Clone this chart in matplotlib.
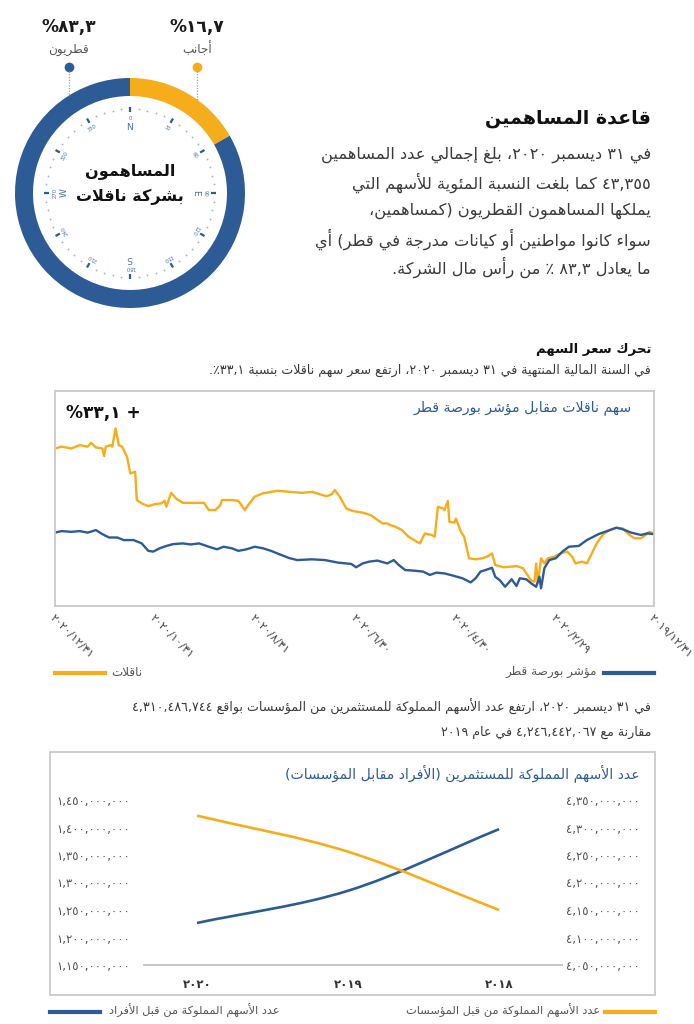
import numpy as np
import matplotlib
matplotlib.use('Agg')
import matplotlib.pyplot as plt
from matplotlib.patches import Wedge, Rectangle, PathPatch
from matplotlib.path import Path

# ---------------------------------------------------------------- data
share_names = ['أجانب', 'قطريون']
share_pct = [16.7, 83.3]

# share price vs index, rebased to 100 on 2019/12/31, days counted back from 2020/12/31
nak_days = [0, 4, 10, 15, 20, 22, 25, 29, 30, 31, 34, 35, 37, 39, 41, 44, 46, 49, 50, 53,
            57, 61, 65, 67, 68, 71, 74, 78, 83, 91, 94, 98, 101, 102, 108, 112, 114, 116, 118, 122,
            127, 132, 136, 143, 151, 157, 162, 166, 169, 171, 174, 178, 182, 188, 193, 200, 203, 205, 208, 212,
            216, 223, 226, 230, 232, 234, 237, 238, 240, 241, 244, 245, 248, 250, 253, 257, 261, 264, 267, 269,
            274, 278, 282, 286, 288, 291, 293, 294, 295, 297, 299, 301, 305, 309, 313, 316, 318, 322, 325, 328,
            331, 335, 339, 343, 347, 351, 354, 358, 361, 363, 366]
nak_vals = [133.1, 133.8, 133.1, 134.4, 133.8, 135.3, 133.5, 133.1, 130.1, 133.8, 134.4, 133.8, 140.9, 134.4, 133.8, 129.9, 123.4, 124.0, 113.0, 111.7,
            110.6, 111.4, 111.7, 112.7, 110.4, 115.8, 113.6, 111.9, 111.9, 111.9, 109.1, 109.1, 111.0, 113.0, 113.0, 112.7, 111.0, 109.1, 111.0, 114.3,
            115.6, 116.2, 116.6, 116.2, 115.8, 116.2, 115.2, 114.5, 115.2, 116.9, 114.3, 109.7, 108.7, 108.1, 107.1, 103.9, 103.9, 103.2, 102.6, 101.3,
            98.7, 96.1, 100.0, 99.4, 98.7, 110.4, 109.7, 109.1, 112.6, 104.5, 104.2, 105.8, 100.6, 98.7, 90.3, 89.9, 90.3, 90.9, 92.2, 87.7,
            86.8, 87.0, 87.3, 86.4, 84.4, 81.6, 81.2, 88.3, 80.5, 90.3, 88.3, 90.3, 90.9, 92.2, 92.9, 90.9, 88.3, 89.0, 88.3, 92.2,
            96.1, 99.7, 101.3, 102.2, 101.9, 99.4, 98.1, 98.1, 99.4, 100.6, 100.0]

qe_days = [0, 4, 10, 15, 20, 25, 29, 33, 38, 42, 48, 53, 57, 60, 64, 68, 72, 78, 83, 88,
           94, 99, 103, 108, 112, 117, 122, 127, 132, 137, 143, 148, 157, 165, 173, 181, 184, 188, 192, 197,
           203, 207, 210, 214, 219, 225, 229, 233, 238, 244, 249, 254, 257, 260, 263, 267, 269, 272, 275, 279,
           282, 284, 288, 291, 294, 296, 297, 299, 302, 306, 310, 314, 320, 325, 332, 339, 343, 347, 352, 358,
           362, 366]
qe_vals = [100.3, 100.9, 100.6, 100.9, 100.3, 101.3, 99.7, 98.4, 98.4, 97.4, 97.4, 96.1, 93.2, 92.9, 94.2, 95.1, 95.8, 96.1, 95.7, 96.1,
           94.8, 93.8, 94.8, 94.2, 93.2, 93.8, 94.8, 94.2, 93.2, 91.9, 90.4, 89.6, 89.9, 89.6, 88.6, 88.1, 86.8, 88.3, 89.0, 89.4,
           88.3, 89.6, 87.7, 85.7, 85.5, 85.1, 83.8, 84.7, 84.4, 83.4, 82.5, 80.9, 82.5, 85.1, 85.7, 86.6, 83.1, 81.6, 79.2, 82.1,
           79.5, 82.5, 82.1, 80.5, 79.2, 83.1, 78.6, 86.4, 89.6, 90.3, 92.9, 94.8, 95.1, 97.4, 99.7, 101.3, 102.2, 101.6, 100.3, 99.4,
           100.0, 99.7]

tick_dates = ['2020-12-31', '2020-10-31', '2020-08-31', '2020-06-30', '2020-04-30', '2020-02-29', '2019-12-31']
tick_text = ['٢٠٢٠/١٢/٣١', '٢٠٢٠/١٠/٣١', '٢٠٢٠/٨/٣١', '٢٠٢٠/٦/٣٠', '٢٠٢٠/٤/٣٠', '٢٠٢٠/٢/٢٩', '٢٠١٩/١٢/٣١']

years = ['٢٠٢٠', '٢٠١٩', '٢٠١٨']
individuals = [1226.4e6, 1285e6, 1397e6]
institutions = [4321.5e6, 4256e6, 4150e6]

BLUE = '#2D5B95'
YELLOW = '#F6AD1C'
GRAY = '#C9C9C9'
TEXT = '#3A3A3A'

# ---------------------------------------------------------------- arabic helpers
DUAL = dict(zip('ئبتثجحخسشصضطظعغفقكلمنهي',
                [0xFE89, 0xFE8F, 0xFE95, 0xFE99, 0xFE9D, 0xFEA1, 0xFEA5, 0xFEB1, 0xFEB5, 0xFEB9,
                 0xFEBD, 0xFEC1, 0xFEC5, 0xFEC9, 0xFECD, 0xFED1, 0xFED5, 0xFED9, 0xFEDD, 0xFEE1,
                 0xFEE5, 0xFEE9, 0xFEF1]))
RIGHT = dict(zip('آأؤإاةدذرزوى',
                 [0xFE81, 0xFE83, 0xFE85, 0xFE87, 0xFE8D, 0xFE93, 0xFEA9, 0xFEAB, 0xFEAD, 0xFEAF,
                  0xFEED, 0xFEEF]))
LAMALEF = {'آ': 0xFEF5, 'أ': 0xFEF7, 'إ': 0xFEF9, 'ا': 0xFEFB}
DIGITS = set('0123456789٠١٢٣٤٥٦٧٨٩')
TO_AR = str.maketrans('0123456789', '٠١٢٣٤٥٦٧٨٩')


def shape(s):
    out = []
    i = 0
    while i < len(s):
        c = s[i]
        jp = i > 0 and s[i - 1] in DUAL
        if c == 'ل' and i + 1 < len(s) and s[i + 1] in LAMALEF:
            b = LAMALEF[s[i + 1]]
            out.append(chr(b + 1 if jp else b))
            i += 2
            continue
        if c in DUAL:
            jn = i + 1 < len(s) and (s[i + 1] in DUAL or s[i + 1] in RIGHT)
            b = DUAL[c]
            out.append(chr(b + 3 if jp and jn else b + 1 if jp else b + 2 if jn else b))
        elif c in RIGHT:
            b = RIGHT[c]
            out.append(chr(b + 1 if jp else b))
        elif c == 'ء':
            out.append('\ufe80')
        else:
            out.append(c)
        i += 1
    return ''.join(out)


def visual(s):
    s = shape(s)
    runs = []
    i = 0
    isl = lambda ch: ch in DIGITS or (ch.isascii() and ch.isalpha())
    while i < len(s):
        j = i
        if isl(s[i]):
            while j < len(s) and (isl(s[j]) or (s[j] in ',./' and j + 1 < len(s) and s[j + 1] in DIGITS)):
                j += 1
            runs.append((True, s[i:j]))
        else:
            while j < len(s) and not isl(s[j]):
                j += 1
            runs.append((False, s[i:j]))
        i = j
    mirror = {'(': ')', ')': '('}
    return ''.join(t if l else ''.join(mirror.get(c, c) for c in reversed(t)) for l, t in reversed(runs))


def ar_num(n):
    return f'{int(round(n)):,}'.translate(TO_AR)


W, H = 694, 1024
fig = plt.figure(figsize=(W / 100, H / 100), dpi=100)
plt.rcParams['font.family'] = ['DejaVu Sans']
bg = fig.add_axes([0, 0, 1, 1])
bg.set_xlim(0, W)
bg.set_ylim(H, 0)
bg.axis('off')


def txt(x, y, s, px, color=TEXT, weight='normal', ha='right', va='center', **kw):
    bg.text(x, y, visual(s), fontsize=px * 0.72, color=color, fontweight=weight,
            ha=ha, va=va, **kw)


def px_axes(x0, y0, x1, y1):
    return fig.add_axes([x0 / W, 1 - y1 / H, (x1 - x0) / W, (y1 - y0) / H])


# ---------------------------------------------------------------- donut
cx, cy, R, ring = 130, 193, 115, 18
start = 0
for pct, col in zip(share_pct, [YELLOW, BLUE]):
    a0 = start * 3.6 - 90
    a1 = (start + pct) * 3.6 - 90
    bg.add_patch(Wedge((cx, cy), R, a0, a1, width=ring, color=col, lw=0))
    start += pct

for ang in range(0, 360, 6):
    t = np.radians(ang)
    if ang % 30:
        bg.plot(cx + 84 * np.sin(t), cy - 84 * np.cos(t), 'o', ms=1.3, color='#9DB2CE', mew=0)
    else:
        bg.plot([cx + 81 * np.sin(t), cx + 86 * np.sin(t)], [cy - 81 * np.cos(t), cy - 86 * np.cos(t)],
                color=BLUE, lw=1.6, solid_capstyle='butt')
        bg.text(cx + 75 * np.sin(t), cy - 75 * np.cos(t), str(ang), fontsize=3.8, color='#4A73A8',
                rotation=-ang, ha='center', va='center', rotation_mode='anchor')
for ang, lab in zip([0, 90, 180, 270], 'NESW'):
    t = np.radians(ang)
    bg.text(cx + 66 * np.sin(t), cy - 66 * np.cos(t), lab, fontsize=6.5, color='#4A73A8',
            rotation=-ang, ha='center', va='center', rotation_mode='anchor')

txt(cx, 171, 'المساهمون', 16, color='#111111', weight='bold', ha='center')
txt(cx, 197, 'بشركة ناقلات', 16, color='#111111', weight='bold', ha='center')

for x, pct, name, col in [(197, share_pct[0], share_names[0], YELLOW), (69, share_pct[1], share_names[1], BLUE)]:
    txt(x, 27, str(pct).replace('.', ',').translate(TO_AR) + '%', 17,
        color='#1a1a1a', weight='bold', ha='center')
    txt(x, 49, name, 12, color='#555555', ha='center')
    bg.plot(x, 67, 'o', ms=7, color=col, mew=0)
    ytop = cy - np.sqrt(R ** 2 - (x - cx) ** 2)
    bg.plot([x, x], [71, ytop], color='#8FA3BF', lw=0.9, ls=(0, (1, 1.2)))

# ---------------------------------------------------------------- intro text
txt(651, 118, 'قاعدة المساهمين', 19, color='#111111', weight='bold')
para = ['في ٣١ ديسمبر ٢٠٢٠، بلغ إجمالي عدد المساهمين',
        '٤٣,٣٥٥ كما بلغت النسبة المئوية للأسهم التي',
        'يملكها المساهمون القطريون (كمساهمين،',
        'سواء كانوا مواطنين أو كيانات مدرجة في قطر) أي',
        'ما يعادل ٨٣,٣ ٪ من رأس مال الشركة.']
for k, line in enumerate(para):
    txt(651, 155 + 28 * k, line, 16.3)

# ---------------------------------------------------------------- price chart
txt(651, 350, 'تحرك سعر السهم', 13.2, color='#111111', weight='bold')
txt(651, 370, 'في السنة المالية المنتهية في ٣١ ديسمبر ٢٠٢٠، ارتفع سعر سهم ناقلات بنسبة ٣٣,١٪.', 12.6)

end = np.datetime64('2020-12-31')
ax1 = px_axes(55, 391, 654, 606)
ax1.patch.set_alpha(0)
ax1.plot(end - np.array(nak_days).astype('timedelta64[D]'), nak_vals, color=YELLOW, lw=1.7)
ax1.plot(end - np.array(qe_days).astype('timedelta64[D]'), qe_vals, color=BLUE, lw=1.7)
ax1.set_xlim(end, np.datetime64('2019-12-31'))
ax1.set_ylim(71.7, 155.5)
ax1.set_yticks([])
ax1.set_xticks(np.array(tick_dates, dtype='datetime64[D]'))
ax1.set_xticklabels(tick_text, rotation=-45, ha='left', va='top', rotation_mode='anchor',
                    fontsize=8.2, color='#444444')
ax1.tick_params(axis='x', length=0, pad=5)
for sp in ax1.spines.values():
    sp.set_color(GRAY)
    sp.set_linewidth(1.3)

txt(632, 408, 'سهم ناقلات مقابل مؤشر بورصة قطر', 14, color=BLUE)
txt(66, 413, '+ ٣٣,١%', 17, color='#111111', weight='bold', ha='left')

bg.plot([55, 105], [673, 673], color=YELLOW, lw=3)
txt(111, 672, 'ناقلات', 12, color='#555555', ha='left')
bg.plot([604, 654], [673, 673], color=BLUE, lw=3)
txt(597, 672, 'مؤشر بورصة قطر', 12, color='#555555')

# ---------------------------------------------------------------- shares chart
txt(651, 707, 'في ٣١ ديسمبر ٢٠٢٠، ارتفع عدد الأسهم المملوكة للمستثمرين من المؤسسات بواقع ٤,٣١٠,٤٨٦,٧٤٤', 12.6)
txt(651, 732, 'مقارنة مع ٤,٢٤٦,٤٤٢,٠٦٧ في عام ٢٠١٩', 12.6)

bg.add_patch(Rectangle((50, 752), 605, 243, fill=False, ec=GRAY, lw=1.3))
txt(640, 773, 'عدد الأسهم المملوكة للمستثمرين (الأفراد مقابل المؤسسات)', 14, color=BLUE)

ax2 = px_axes(144, 800, 562, 965)
ax2.patch.set_alpha(0)
ax3 = ax2.twinx()


def smooth(ax, xs, ys, col):
    # catmull-rom curve through the points, drawn as cubic bezier segments
    pts = np.column_stack([xs, ys]).astype(float)
    ext = np.vstack([2 * pts[0] - pts[1], pts, 2 * pts[-1] - pts[-2]])
    verts = [pts[0]]
    codes = [Path.MOVETO]
    for i in range(1, len(ext) - 2):
        p0, p1, p2, p3 = ext[i - 1], ext[i], ext[i + 1], ext[i + 2]
        verts += [p1 + (p2 - p0) / 6, p2 - (p3 - p1) / 6, p2]
        codes += [Path.CURVE4] * 3
    ax.add_patch(PathPatch(Path(verts, codes), fc='none', ec=col, lw=1.9, clip_on=False))


xs = np.arange(len(years))
smooth(ax2, xs, individuals, BLUE)
smooth(ax3, xs, institutions, YELLOW)
ax2.set_xlim(-0.351, 2.417)
ax2.set_ylim(1150e6, 1450e6)
ax3.set_ylim(4050e6, 4350e6)
left_ticks = np.arange(1150e6, 1451e6, 50e6)
right_ticks = np.arange(4050e6, 4351e6, 50e6)
ax2.set_yticks(left_ticks)
ax2.set_yticklabels([ar_num(v) for v in left_ticks], fontsize=8.4, color='#555555')
ax3.set_yticks(right_ticks)
ax3.set_yticklabels([ar_num(v) for v in right_ticks], fontsize=8.4, color='#555555')
ax2.set_xticks(xs)
ax2.set_xticklabels(years, fontsize=8.5, fontweight='bold', color='#333333')
ax2.tick_params(length=0)
ax2.tick_params(axis='y', pad=10)
ax2.tick_params(axis='x', pad=9)
ax3.tick_params(length=0, pad=3)
for a in (ax2, ax3):
    for name, sp in a.spines.items():
        sp.set_visible(name == 'bottom')
        sp.set_color(GRAY)
        sp.set_linewidth(1.3)

bg.plot([50, 100], [1012, 1012], color=BLUE, lw=3)
txt(109, 1011, 'عدد الأسهم المملوكة من قبل الأفراد', 11.4, color='#555555', ha='left')
bg.plot([605, 655], [1012, 1012], color=YELLOW, lw=3)
txt(600, 1011, 'عدد الأسهم المملوكة من قبل المؤسسات', 11.4, color='#555555')

fig.savefig('out.png', dpi=100, facecolor='white')
